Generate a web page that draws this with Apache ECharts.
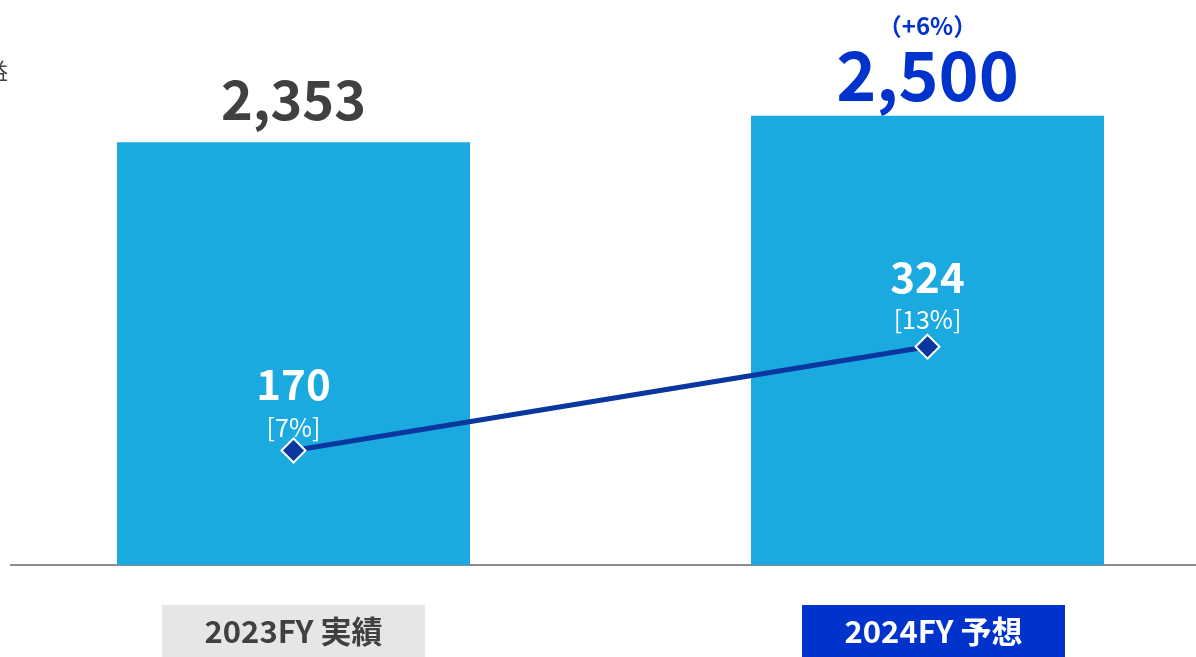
<!DOCTYPE html>
<html>
<head>
<meta charset="utf-8">
<script src="https://cdn.jsdelivr.net/npm/echarts@6/dist/echarts.min.js"></script>
<style>
  html, body { margin: 0; padding: 0; background: #fff; }
  #main { width: 1196px; height: 657px; }
</style>
</head>
<body>
<div id="main"></div>
<script>
// 売上高と営業利益
const categories = ['2023FY 実績', '2024FY 予想']
const sales = [2353, 2500]
const salesLabels = ['2,353', '2,500']
const growthLabels = ['', '（+6%）']
const profit = [170, 324]
const marginLabels = ['[7%]', '[13%]']

const FONT = '"Noto Sans CJK JP", "Noto Sans", sans-serif'
const BAR = '#1aaadf'
const BLUE = '#0033cc'
const LINE = '#0a36a0'

const chart = echarts.init(document.getElementById('main'))

const barData = sales.map((v, i) => ({
  value: v,
  label: {
    distance: i === 0 ? 16 : 7,
    formatter: i === 0
      ? '{a|' + salesLabels[i] + '}'
      : '{g|' + growthLabels[i] + '}\n{b|' + salesLabels[i] + '}',
  },
}))

const lineData = profit.map((v, i) => ({
  value: v,
  label: { distance: i === 0 ? -7 : -3 },
}))

const option = {
  animation: false,
  grid: { left: -23.5, width: 1268, top: 26, bottom: 92, containLabel: false, outerBoundsMode: 'none' },
  graphic: [
    { type: 'line', shape: { x1: 10, y1: 565, x2: 1196, y2: 565 }, style: { stroke: '#8c8c8c', lineWidth: 2 } },
    { type: 'text', right: 1188, top: 60, style: { text: '益', font: '22px ' + FONT, fill: '#404040' } },
  ],
  xAxis: {
    type: 'category',
    data: categories.map((c, i) => (i === 1 ? { value: c, textStyle: { padding: [0, 0, 0, 12] } } : c)),
    axisLine: { show: false },
    axisTick: { show: false },
    axisLabel: {
      margin: 40,
      formatter: (v, i) => (i === 0 ? '{a|' + v + '}' : '{b|' + v + '}'),
      rich: {
        a: { backgroundColor: '#e6e6e6', color: '#404040', width: 263, height: 52, lineHeight: 52, align: 'center', fontSize: 31, fontWeight: 'bold', fontFamily: FONT },
        b: { backgroundColor: BLUE, color: '#fff', width: 263, height: 52, lineHeight: 52, align: 'center', fontSize: 31, fontWeight: 'bold', fontFamily: FONT },
      },
    },
  },
  yAxis: [
    { type: 'value', min: 0, max: 3000, show: false, splitLine: { show: false } },
    { type: 'value', min: 0, max: 800, show: false, splitLine: { show: false } },
  ],
  series: [
    {
      name: '売上高',
      type: 'bar',
      barWidth: 353,
      itemStyle: { color: BAR },
      label: {
        show: true,
        position: 'top',
        rich: {
          a: { color: '#404040', fontSize: 54, fontWeight: 'bold', fontFamily: FONT, lineHeight: 54 },
          b: { color: BLUE, fontSize: 68, fontWeight: 'bold', fontFamily: FONT, lineHeight: 68 },
          g: { color: BLUE, fontSize: 24, fontWeight: 'bold', fontFamily: FONT, lineHeight: 30 },
        },
      },
      data: barData,
    },
    {
      name: '営業利益',
      type: 'line',
      yAxisIndex: 1,
      symbol: 'diamond',
      symbolSize: 24,
      lineStyle: { color: LINE, width: 5 },
      itemStyle: { color: LINE, borderColor: '#fff', borderWidth: 2 },
      label: {
        show: true,
        position: 'top',
        formatter: (p) => '{v|' + profit[p.dataIndex] + '}\n{p|' + marginLabels[p.dataIndex] + '}',
        rich: {
          v: { color: '#fff', fontSize: 42, fontWeight: 'bold', fontFamily: FONT, lineHeight: 52 },
          p: { color: '#fff', fontSize: 25, fontFamily: FONT, lineHeight: 34 },
        },
      },
      data: lineData,
    },
  ],
}
option && chart.setOption(option)
</script>
</body>
</html>
